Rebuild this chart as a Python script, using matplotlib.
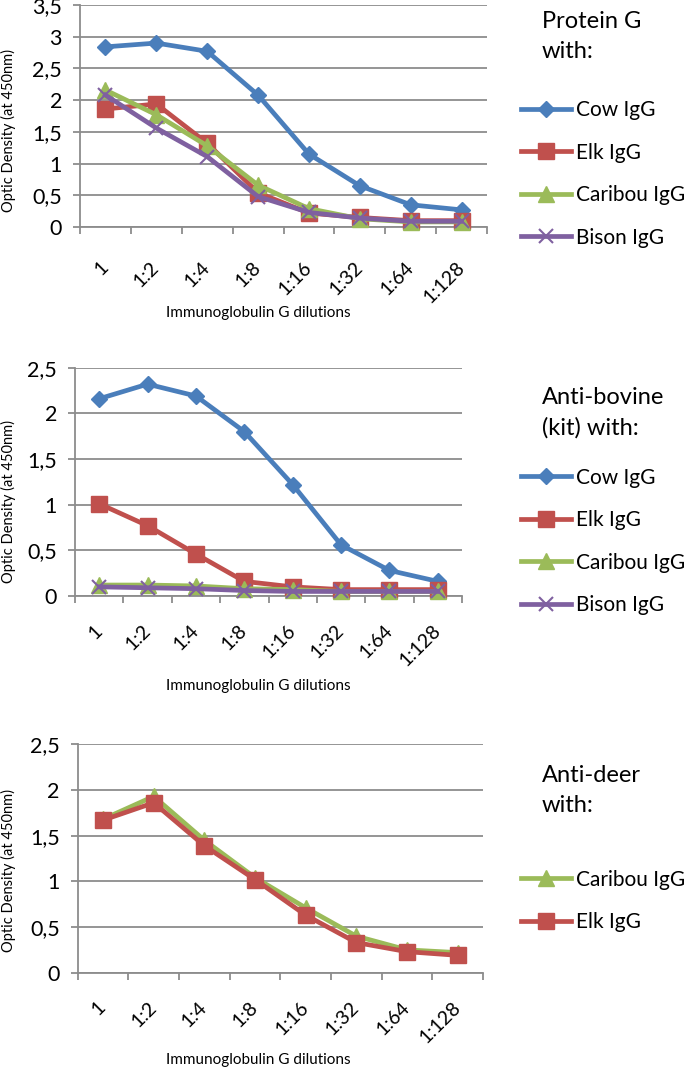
import matplotlib
matplotlib.use("Agg")
import matplotlib.pyplot as plt

W, H = 685, 1068

dilutions = ["1", "1:2", "1:4", "1:8", "1:16", "1:32", "1:64", "1:128"]
y_ticks_35 = [0, 0.5, 1, 1.5, 2, 2.5, 3, 3.5]
y_labels_35 = ["0", "0,5", "1", "1,5", "2", "2,5", "3", "3,5"]
y_ticks_25 = [0, 0.5, 1, 1.5, 2, 2.5]
y_labels_25 = ["0", "0,5", "1", "1,5", "2", "2,5"]

# Protein G
pg_cow = [2.84, 2.90, 2.77, 2.08, 1.15, 0.65, 0.35, 0.27]
pg_elk = [1.86, 1.94, 1.32, 0.54, 0.22, 0.15, 0.10, 0.10]
pg_caribou = [2.16, 1.77, 1.28, 0.66, 0.29, 0.13, 0.08, 0.08]
pg_bison = [2.08, 1.56, 1.11, 0.48, 0.23, 0.14, 0.09, 0.09]

# Anti-bovine (kit)
ab_cow = [2.16, 2.32, 2.19, 1.80, 1.22, 0.56, 0.28, 0.16]
ab_elk = [1.01, 0.77, 0.46, 0.16, 0.10, 0.07, 0.07, 0.07]
ab_caribou = [0.12, 0.12, 0.11, 0.08, 0.07, 0.05, 0.05, 0.05]
ab_bison = [0.10, 0.09, 0.08, 0.06, 0.05, 0.05, 0.05, 0.05]

# Anti-deer
ad_caribou = [1.68, 1.93, 1.45, 1.04, 0.71, 0.40, 0.25, 0.22]
ad_elk = [1.67, 1.86, 1.39, 1.02, 0.63, 0.33, 0.23, 0.19]

GRAY = "#8c8c8c"
styles = {
    "Cow IgG": ("#4a7ebb", "D", 8.5, 1.0),
    "Elk IgG": ("#c0504d", "s", 11.5, 1.0),
    "Caribou IgG": ("#9bbb59", "^", 11, 1.0),
    "Bison IgG": ("#7f60a0", "x", 10, 1.5),
}

plt.rcParams["font.family"] = ["Lato", "DejaVu Sans"]

fig = plt.figure(figsize=(W / 100, H / 100), dpi=100)


def px_axes(left, right, top, bottom):
    return fig.add_axes([left / W, 1 - bottom / H, (right - left) / W, (bottom - top) / H])


def draw_panel(ax, series, yticks, ylabels, xpad):
    x = list(range(len(dilutions)))
    for name, vals in series:
        c, m, ms, mew = styles[name]
        ax.plot(x, vals, color=c, lw=3.4, marker=m, ms=ms, mfc=c, mec=c, mew=mew,
                label=name, solid_joinstyle="round", clip_on=False, zorder=3)
    ax.set_xlim(-0.5, len(dilutions) - 0.5)
    ax.set_ylim(yticks[0], yticks[-1])
    ax.set_yticks(yticks, ylabels, fontsize=15.5)
    ax.set_xticks(x, dilutions, rotation=45, ha="right", va="center",
                  rotation_mode="anchor", fontsize=14)
    ax.set_xticks([i - 0.5 for i in range(len(dilutions) + 1)], minor=True)
    ax.tick_params(axis="x", which="major", length=0, pad=xpad)
    ax.tick_params(axis="x", which="minor", length=5, width=1.3, color=GRAY)
    ax.tick_params(axis="y", length=5, width=1.3, color=GRAY, pad=8)
    ax.yaxis.grid(True, color=GRAY, lw=1.3)
    ax.set_axisbelow(True)
    for s in ["top", "right"]:
        ax.spines[s].set_visible(False)
    for s in ["left", "bottom"]:
        ax.spines[s].set_color(GRAY)
        ax.spines[s].set_linewidth(1.3)


def labels(xl_y, yl_y):
    fig.text(258 / W, 1 - xl_y / H, "Immunoglobulin G dilutions", fontsize=11,
             ha="center", va="center")
    fig.text(8 / W, 1 - yl_y / H, "Optic Density (at 450nm)", fontsize=10.5,
             rotation=90, ha="center", va="center")


def side_legend(ax, title, title_y, entries_y):
    fig.text(542 / W, 1 - title_y / H, title, fontsize=17, linespacing=1.5,
             ha="left", va="center")
    ax.legend(loc="center left", bbox_to_anchor=(521 / W, 1 - entries_y / H),
              bbox_transform=fig.transFigure, frameon=False, fontsize=15,
              borderpad=0, borderaxespad=0, handlelength=2.4, handletextpad=0.25,
              labelspacing=1.08)


# Panel 1: Protein G
ax1 = px_axes(80, 487, 5, 227)
draw_panel(ax1, [("Cow IgG", pg_cow), ("Elk IgG", pg_elk),
                 ("Caribou IgG", pg_caribou), ("Bison IgG", pg_bison)],
           y_ticks_35, y_labels_35, 27)
labels(313, 130)
side_legend(ax1, "Protein G\nwith:", 36.5, 174)

# Panel 2: Anti-bovine
ax2 = px_axes(75, 462, 367.7, 596)
draw_panel(ax2, [("Cow IgG", ab_cow), ("Elk IgG", ab_elk),
                 ("Caribou IgG", ab_caribou), ("Bison IgG", ab_bison)],
           y_ticks_25, y_labels_25, 23)
labels(686, 502)
side_legend(ax2, "Anti-bovine\n(kit) with:", 412.5, 541.5)

# Panel 3: Anti-deer
ax3 = px_axes(77.7, 483, 744.3, 972.7)
draw_panel(ax3, [("Caribou IgG", ad_caribou), ("Elk IgG", ad_elk)],
           y_ticks_25, y_labels_25, 23)
labels(1060, 870)
side_legend(ax3, "Anti-deer\nwith:", 790.5, 901)

fig.savefig("out.png", dpi=100)
